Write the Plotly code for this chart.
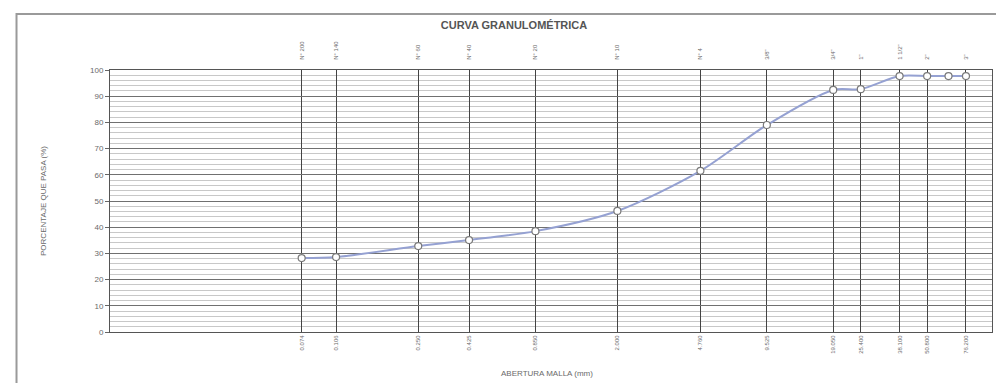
import plotly.graph_objects as go

# Sieve openings (mm) with passing percentages
aberturas = [0.074, 0.106, 0.250, 0.425, 0.850, 2.000, 4.760, 9.525, 19.050, 25.400, 38.100, 50.800, 63.500, 76.200]
pasa = [28.2, 28.6, 32.8, 35.1, 38.5, 46.2, 61.5, 79.0, 92.4, 92.7, 97.7, 97.7, 97.7, 97.7]

# Sieves drawn as vertical lines with labels
tamices_mm = [0.074, 0.106, 0.250, 0.425, 0.850, 2.000, 4.760, 9.525, 19.050, 25.400, 38.100, 50.800, 76.200]
etiquetas_mm = ["0.074", "0.106", "0.250", "0.425", "0.850", "2.000", "4.760", "9.525", "19.050", "25.400", "38.100", "50.800", "76.200"]
etiquetas_tamiz = ["N° 200", "N° 140", "N° 60", "N° 40", "N° 20", "N° 10", "N° 4", "3/8\"", "3/4\"", "1\"", "1 1/2\"", "2\"", "3\""]

y_ticks = list(range(0, 101, 10))

FONT = "Liberation Sans, Arial, sans-serif"
GRAY = "#6a6a6a"

fig = go.Figure()
fig.add_trace(go.Scatter(
    x=aberturas, y=pasa, mode="lines+markers",
    line=dict(color="#95a1d2", width=2, shape="spline", smoothing=0.8),
    marker=dict(symbol="circle", size=7, color="white", line=dict(color="#7a7a7a", width=1.2)),
    showlegend=False, xaxis="x", yaxis="y",
))
# invisible trace for top axis
fig.add_trace(go.Scatter(x=[aberturas[0]], y=[pasa[0]], mode="markers",
                         marker=dict(opacity=0), showlegend=False, hoverinfo="skip",
                         xaxis="x2", yaxis="y"))

fig.update_layout(
    width=1004, height=383,
    margin=dict(l=102, r=20, t=62, b=59),
    paper_bgcolor="white", plot_bgcolor="white",
    font=dict(family=FONT, color=GRAY, size=8),
    title=dict(text="<b>CURVA GRANULOMÉTRICA</b>", x=0.504, xanchor="center", y=0.955, yanchor="middle",
               font=dict(size=11, color="#555555", family=FONT)),
    xaxis=dict(type="log", range=[-2, 2], tickvals=tamices_mm, ticktext=etiquetas_mm,
               tickangle=-90, showgrid=True, gridcolor="#444444", gridwidth=1.4,
               showline=True, linecolor="#555555", linewidth=1, mirror=False,
               ticks="", tickfont=dict(size=6, color=GRAY), zeroline=False),
    xaxis2=dict(type="log", range=[-2, 2], overlaying="x", side="top", tickvals=tamices_mm,
                ticktext=etiquetas_tamiz, tickangle=-90, showgrid=False, showline=True,
                linecolor="#555555", linewidth=1, ticks="", ticklabelstandoff=8,
                tickfont=dict(size=6, color=GRAY)),
    yaxis=dict(range=[0, 100], tickvals=y_ticks, showgrid=True, gridcolor="#707070", gridwidth=1,
               showline=True, linecolor="#555555", linewidth=1, mirror=True,
               ticks="outside", ticklen=4, tickcolor="#666666", tickfont=dict(size=8, color=GRAY),
               zeroline=False,
               minor=dict(dtick=2, showgrid=True, gridcolor="#c8c8c8", gridwidth=1),
               title=dict(text="PORCENTAJE QUE PASA (%)", font=dict(size=8, color=GRAY), standoff=42)),
    annotations=[dict(text="ABERTURA MALLA (mm)", xref="paper", yref="paper", x=0.495, y=-0.157,
                      xanchor="center", yanchor="middle", showarrow=False,
                      font=dict(size=8, color=GRAY, family=FONT))],
    shapes=[dict(type="rect", xref="paper", yref="paper", x0=-0.106, x1=1.0125, y0=-0.206, y1=1.214,
                 line=dict(color="#9a9a9a", width=2), fillcolor="rgba(0,0,0,0)", layer="below")],
)

fig.write_html("out.html")
